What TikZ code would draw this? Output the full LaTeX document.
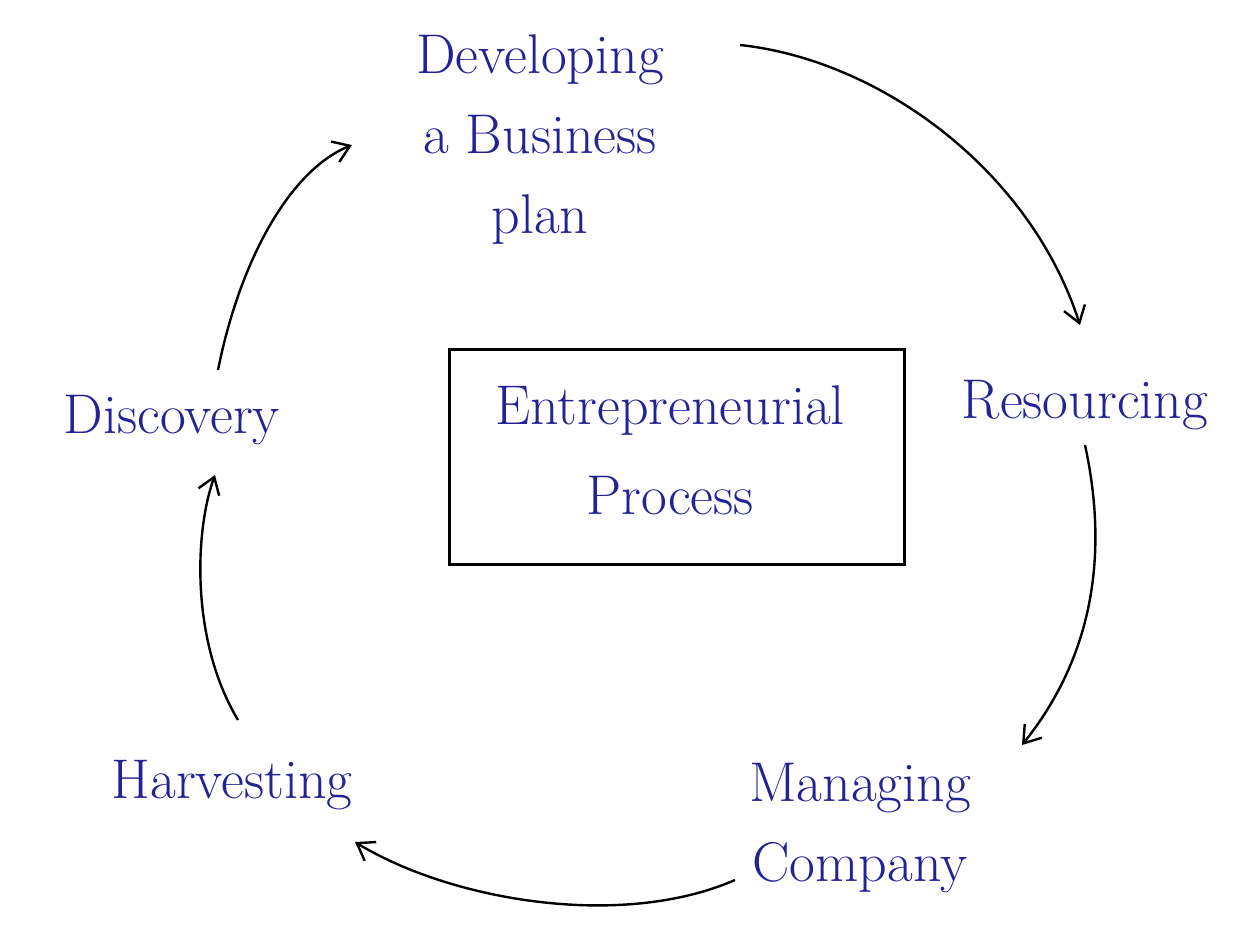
\documentclass[tikz,border=0pt]{standalone}
\usetikzlibrary{arrows.meta}
\definecolor{ink}{RGB}{35,35,150}
\begin{document}
\begin{tikzpicture}[x=1pt,y=-1pt,
  lbl/.style={text=ink,font=\fontsize{56}{80}\selectfont,align=center,inner sep=0pt},
  conn/.style={line width=2.4pt,-{Straight Barb[length=16pt,width=22pt,line width=2.4pt]}}]
\useasboundingbox[fill=white] (0,0) rectangle (1250,929);
\node[lbl] (dev) at (540,140) {Developing\\a Business\\plan};
\node[draw,line width=2.6pt,minimum width=455pt,minimum height=215pt] (box) at (677,457) {};
\node[lbl,font=\fontsize{56}{90}\selectfont] (ep) at (670,450) {Entrepreneurial\\Process};
\node[lbl] (res) at (1085,405) {Resourcing};
\node[lbl] (man) at (860,828) {Managing\\Company};
\node[lbl] (har) at (232,785) {Harvesting};
\node[lbl] (dis) at (172,420) {Discovery};
\coordinate (d1) at (740,45);
\coordinate (r1) at (1080,325);
\coordinate (r2) at (1085,445);
\coordinate (m1) at (1022,745);
\coordinate (m2) at (735,880);
\coordinate (h1) at (355,842);
\coordinate (h2) at (238,720);
\coordinate (s1) at (215,475);
\coordinate (s2) at (218,370);
\coordinate (b1) at (352,145);
\draw[conn] (d1) .. controls (880,60) and (1030,170) .. (r1);
\draw[conn] (r2) .. controls (1110,560) and (1090,660) .. (m1);
\draw[conn] (m2) .. controls (620,930) and (450,900) .. (h1);
\draw[conn] (h2) .. controls (190,640) and (195,530) .. (s1);
\draw[conn] (s2) .. controls (240,260) and (290,170) .. (b1);
\end{tikzpicture}
\end{document}
